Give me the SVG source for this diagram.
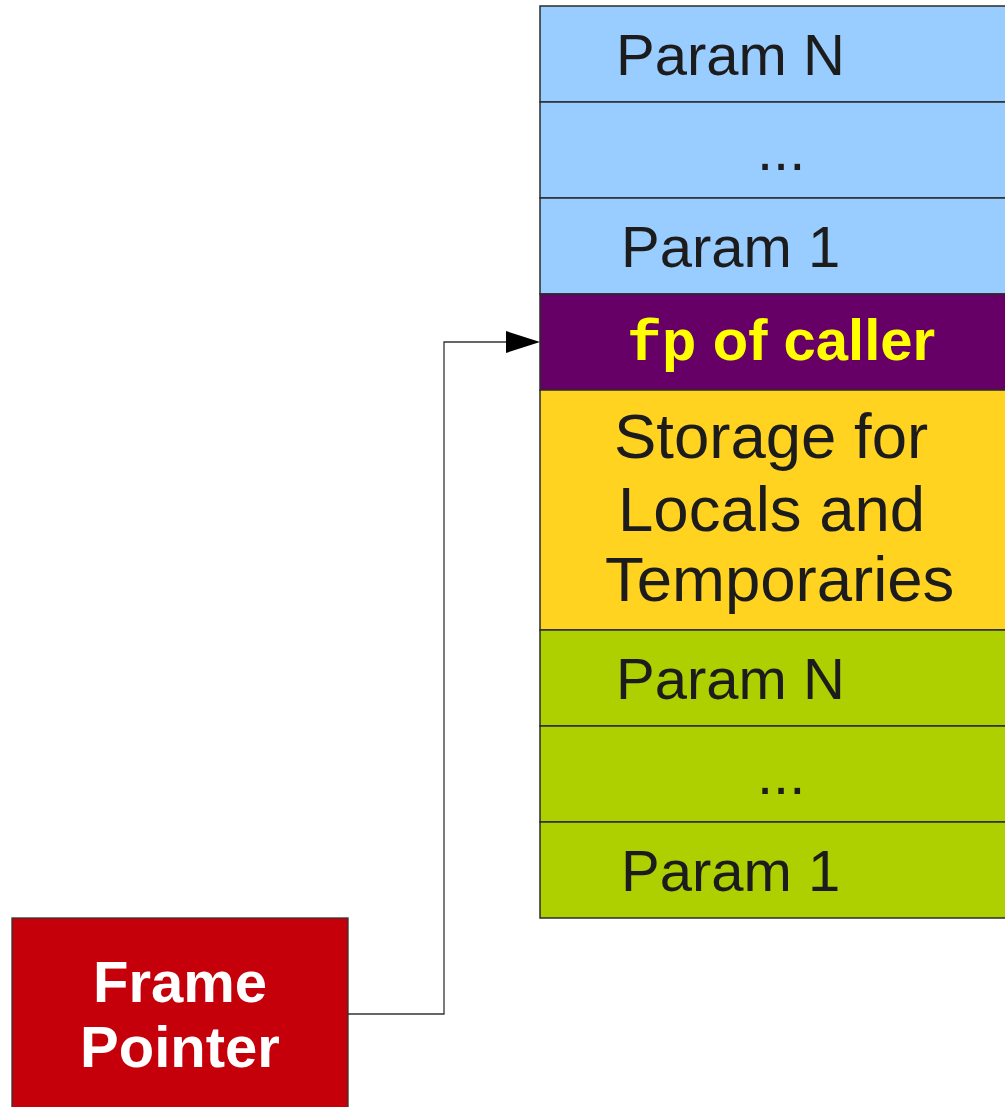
<svg xmlns="http://www.w3.org/2000/svg" width="1005" height="1107" viewBox="0 0 1005 1107">
<style>
.cell{stroke:#2b2b2b;stroke-width:1.5}
.t{font-family:"Liberation Sans",Arial,sans-serif;font-size:58px;fill:#1c1c1c}
.s{font-family:"Liberation Sans",Arial,sans-serif;font-size:63.5px;fill:#1c1c1c}
.b{font-family:"Liberation Sans",Arial,sans-serif;font-size:58px;font-weight:bold}
.m{font-family:"Liberation Mono","Courier New",monospace;font-size:58px;font-weight:bold}
.conn{fill:none;stroke:#333;stroke-width:1.3}
</style>
<rect width="1005" height="1107" fill="#ffffff"/>
<g id="param-n-top"><rect class="cell" x="540" y="6" width="480" height="96" fill="#99ccff"/><text class="t" x="616" y="75">Param N</text></g>
<g id="dots-top"><rect class="cell" x="540" y="102" width="480" height="96" fill="#99ccff"/><text class="t" x="757" y="170">...</text></g>
<g id="param-1-top"><rect class="cell" x="540" y="198" width="480" height="96" fill="#99ccff"/><text class="t" x="621" y="267">Param 1</text></g>
<g id="fp-caller"><rect class="cell" x="540" y="294" width="480" height="96" fill="#660066"/><text x="627" y="360" fill="#ffff00"><tspan class="m">fp</tspan><tspan class="b"> of caller</tspan></text></g>
<g id="storage"><rect class="cell" x="540" y="390" width="480" height="240" fill="#ffd320"/>
<text class="s" x="614" y="458">Storage for</text>
<text class="s" x="618" y="531">Locals and</text>
<text class="s" x="605" y="601">Temporaries</text></g>
<g id="param-n-bot"><rect class="cell" x="540" y="630" width="480" height="96" fill="#aecf00"/><text class="t" x="616" y="699">Param N</text></g>
<g id="dots-bot"><rect class="cell" x="540" y="726" width="480" height="96" fill="#aecf00"/><text class="t" x="757" y="794">...</text></g>
<g id="param-1-bot"><rect class="cell" x="540" y="822" width="480" height="96" fill="#aecf00"/><text class="t" x="621" y="891">Param 1</text></g>
<g id="frame-pointer"><rect x="12" y="918" width="336" height="200" fill="#c5000b" stroke="#333" stroke-width="1.3"/>
<text class="b" x="180" y="1002" fill="#ffffff" text-anchor="middle">Frame</text>
<text class="b" x="180" y="1067" fill="#ffffff" text-anchor="middle">Pointer</text></g>
<g id="connectors">
<polyline class="conn" points="348,1014 444,1014 444,342 508,342"/>
<polygon points="540,342 506,331 506,353" fill="#000"/>
</g>
</svg>
